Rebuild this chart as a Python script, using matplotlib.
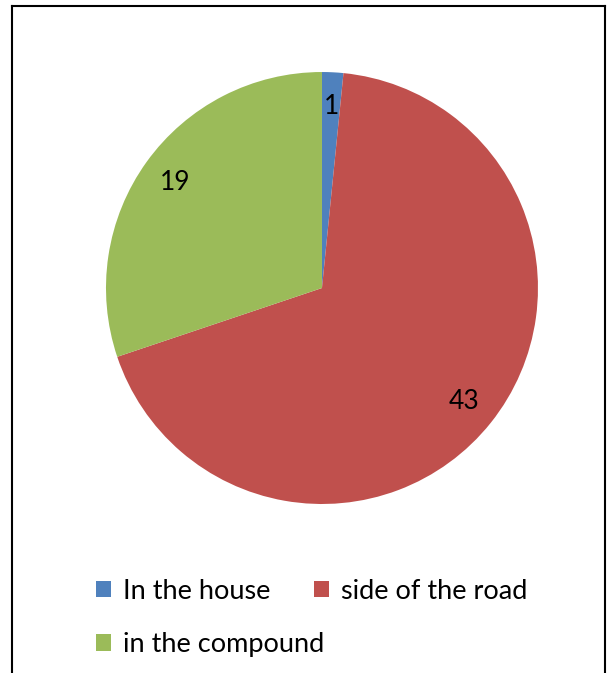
import matplotlib.pyplot as plt
from matplotlib.lines import Line2D

# where the rubbish is dumped
places = ['In the house', 'side of the road', 'in the compound']
counts = [1, 43, 19]
colors = ['#4F81BD', '#C0504D', '#9BBB59']

plt.rcParams['font.family'] = ['Lato', 'DejaVu Sans']

fig = plt.figure(figsize=(6.13, 6.73), dpi=100)
ax = fig.add_axes([0.1729, 0.2511, 0.7047, 0.6419])

total = sum(counts)
wedges, texts, autotexts = ax.pie(
    counts, colors=colors, startangle=90, counterclock=False,
    autopct=lambda p: '%d' % round(p * total / 100),
    pctdistance=0.84, radius=1.0,
    textprops={'fontsize': 19, 'color': 'black'})
ax.set_xlim(-1, 1)
ax.set_ylim(-1, 1)
ax.set_aspect('equal')

# legend fills column by column, so reorder to get house/road on the first row
order = [0, 2, 1]
leg = fig.legend([wedges[i] for i in order], [places[i] for i in order],
                 loc='center left', bbox_to_anchor=(0.134, 0.082),
                 ncol=2, frameon=False, fontsize=19.5,
                 handlelength=0.55, handleheight=0.55, handletextpad=0.45,
                 columnspacing=-0.37, labelspacing=1.05, borderpad=0)

# thin frame round the chart, open at the bottom
fig.add_artist(Line2D([12/613, 12/613], [0, 1 - 6/673], color='black', lw=1.5))
fig.add_artist(Line2D([605/613, 605/613], [0, 1 - 6/673], color='black', lw=1.5))
fig.add_artist(Line2D([12/613, 605/613], [1 - 6/673, 1 - 6/673], color='black', lw=1.5))

fig.savefig('out.png', dpi=100)
